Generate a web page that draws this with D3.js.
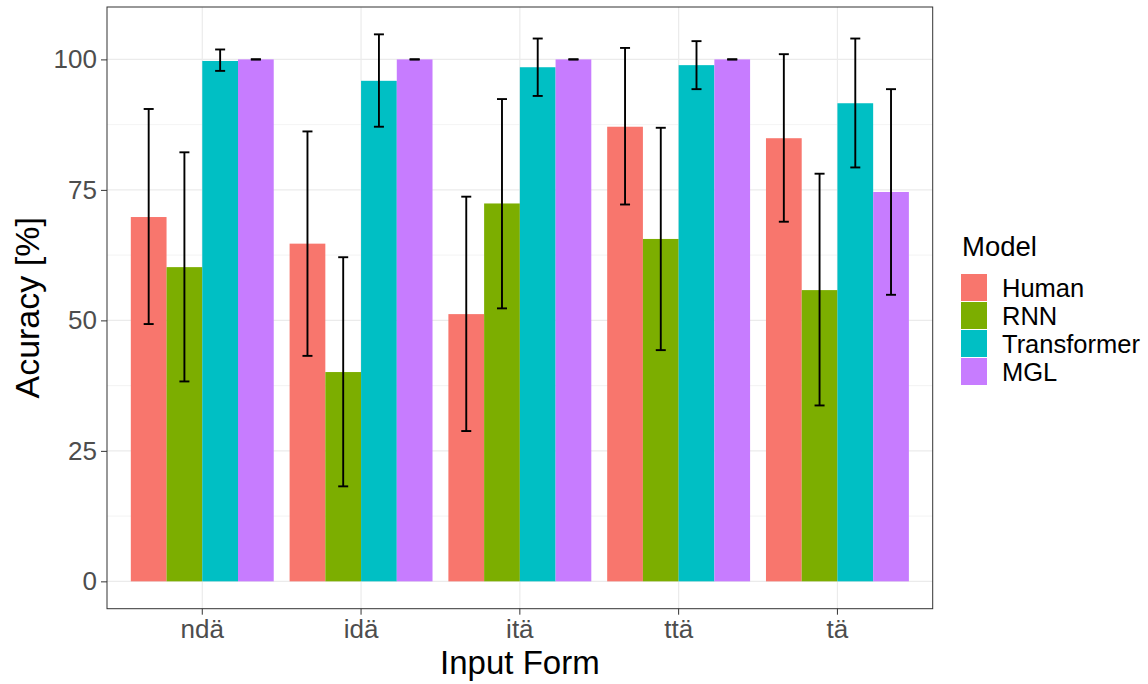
<!DOCTYPE html>
<html>
<head>
<meta charset="utf-8">
<script src="https://cdn.jsdelivr.net/npm/d3@7"></script>
<style>
  body { margin: 0; background: #ffffff; }
  svg { display: block; font-family: "Liberation Sans", Arial, sans-serif; }
</style>
</head>
<body>
<div id="chart"></div>
<script>
"use strict";

// data
const forms = ["ndä", "idä", "itä", "ttä", "tä"];
const models = ["Human", "RNN", "Transformer", "MGL"];
const model_colors = ["#F8766D", "#7CAE00", "#00BFC4", "#C77CFF"];
const y_ticks = [0, 25, 50, 75, 100];
const y_minor = [12.5, 37.5, 62.5, 87.5];

// one value per form, for each model
const acc_human       = [69.8, 64.7, 51.2, 87.1, 84.9];
const acc_rnn         = [60.2, 40.1, 72.4, 65.6, 55.8];
const acc_transformer = [99.7, 95.9, 98.5, 98.9, 91.6];
const acc_mgl         = [100, 100, 100, 100, 74.6];

const lo_human       = [49.3, 43.2, 28.8, 72.2, 68.9];
const hi_human       = [90.5, 86.2, 73.7, 102.2, 101.0];
const lo_rnn         = [38.3, 18.2, 52.3, 44.3, 33.7];
const hi_rnn         = [82.2, 62.1, 92.4, 86.9, 78.1];
const lo_transformer = [97.8, 87.1, 93.0, 94.3, 79.3];
const hi_transformer = [101.9, 104.8, 104.0, 103.5, 104.0];
const lo_mgl         = [100, 100, 100, 100, 54.9];
const hi_mgl         = [100, 100, 100, 100, 94.3];

const values = [acc_human, acc_rnn, acc_transformer, acc_mgl];
const lows = [lo_human, lo_rnn, lo_transformer, lo_mgl];
const highs = [hi_human, hi_rnn, hi_transformer, hi_mgl];

const rows = [];
forms.forEach(function(f, i) {
  models.forEach(function(m, j) {
    rows.push({form: f, model: m, value: values[j][i], lo: lows[j][i], hi: highs[j][i]});
  });
});

const width = 1148;
const height = 684;
const panel = {left: 107, right: 932.7, top: 7, bottom: 608.7};

const svg = d3.select("#chart")
    .append("svg")
    .attr("width", width)
    .attr("height", height);

svg.append("rect")
    .attr("width", width)
    .attr("height", height)
    .style("fill", "#ffffff");

// scales (ggplot style expansion)
const data_max = d3.max(rows, d => d.hi);
const pad = data_max * 0.05;
const y = d3.scaleLinear()
    .domain([-pad, data_max + pad])
    .range([panel.bottom, panel.top]);

const x0 = d3.scaleBand()
    .domain(forms)
    .range([panel.left, panel.right])
    .paddingInner(0.1)
    .paddingOuter(0.15);

const x1 = d3.scaleBand()
    .domain(models)
    .range([0, x0.bandwidth()]);

const color = d3.scaleOrdinal()
    .domain(models)
    .range(model_colors);

// grid
const grid = svg.append("g");
grid.selectAll(".minor")
    .data(y_minor)
    .enter().append("line")
    .attr("x1", panel.left).attr("x2", panel.right)
    .attr("y1", d => y(d)).attr("y2", d => y(d))
    .style("stroke", "#EBEBEB")
    .style("stroke-width", 0.6);

grid.selectAll(".major")
    .data(y_ticks)
    .enter().append("line")
    .attr("x1", panel.left).attr("x2", panel.right)
    .attr("y1", d => y(d)).attr("y2", d => y(d))
    .style("stroke", "#EBEBEB")
    .style("stroke-width", 1.2);

grid.selectAll(".vmajor")
    .data(forms)
    .enter().append("line")
    .attr("x1", d => x0(d) + x0.bandwidth() / 2)
    .attr("x2", d => x0(d) + x0.bandwidth() / 2)
    .attr("y1", panel.top).attr("y2", panel.bottom)
    .style("stroke", "#EBEBEB")
    .style("stroke-width", 1.2);

// bars
svg.append("g")
    .selectAll("rect")
    .data(rows)
    .enter().append("rect")
    .attr("x", d => x0(d.form) + x1(d.model))
    .attr("y", d => y(d.value))
    .attr("width", x1.bandwidth())
    .attr("height", d => y(0) - y(d.value))
    .style("fill", d => color(d.model));

// error bars
const cap = x1.bandwidth() * 0.28;
const err = svg.append("g")
    .style("stroke", "#000000")
    .style("stroke-width", 1.9);

rows.forEach(function(d) {
  const cx = x0(d.form) + x1(d.model) + x1.bandwidth() / 2;
  err.append("line")
      .attr("x1", cx).attr("x2", cx)
      .attr("y1", y(d.lo)).attr("y2", y(d.hi));
  err.append("line")
      .attr("x1", cx - cap / 2).attr("x2", cx + cap / 2)
      .attr("y1", y(d.lo)).attr("y2", y(d.lo));
  err.append("line")
      .attr("x1", cx - cap / 2).attr("x2", cx + cap / 2)
      .attr("y1", y(d.hi)).attr("y2", y(d.hi));
});

// panel border
svg.append("rect")
    .attr("x", panel.left)
    .attr("y", panel.top)
    .attr("width", panel.right - panel.left)
    .attr("height", panel.bottom - panel.top)
    .style("fill", "none")
    .style("stroke", "#333333")
    .style("stroke-width", 1);

// axes
const y_axis = svg.append("g")
    .attr("transform", `translate(${panel.left},0)`)
    .call(d3.axisLeft(y).tickValues(y_ticks).tickSize(6).tickPadding(4));

const x_axis = svg.append("g")
    .attr("transform", `translate(0,${panel.bottom})`)
    .call(d3.axisBottom(x0).tickSize(6).tickPadding(2));

[y_axis, x_axis].forEach(function(a) {
  a.select(".domain").remove();
  a.selectAll(".tick line").style("stroke", "#333333").style("stroke-width", 1);
  a.selectAll(".tick text")
      .style("fill", "#4D4D4D")
      .style("font-size", "26px")
      .style("font-family", "Liberation Sans, Arial, sans-serif");
});
x_axis.selectAll(".tick text").attr("dy", "0.82em");

// axis titles
svg.append("text")
    .attr("x", (panel.left + panel.right) / 2)
    .attr("y", 674)
    .attr("text-anchor", "middle")
    .style("font-size", "33px")
    .style("fill", "#000000")
    .text("Input Form");

svg.append("text")
    .attr("transform", `translate(39,${(panel.top + panel.bottom) / 2}) rotate(-90)`)
    .attr("text-anchor", "middle")
    .style("font-size", "34px")
    .style("fill", "#000000")
    .text("Acuracy [%]");

// legend
const legend = svg.append("g").attr("transform", "translate(961,0)");
legend.append("text")
    .attr("x", 1)
    .attr("y", 256)
    .style("font-size", "27.5px")
    .style("fill", "#000000")
    .text("Model");

const key_h = 28;
const item = legend.selectAll(".key")
    .data(models)
    .enter().append("g")
    .attr("transform", (d, i) => `translate(0,${274 + i * key_h})`);

item.append("rect")
    .attr("width", 26)
    .attr("height", key_h - 1)
    .style("fill", d => color(d));

item.append("text")
    .attr("x", 41)
    .attr("y", key_h / 2)
    .attr("dy", "0.35em")
    .style("font-size", "25.5px")
    .style("fill", "#000000")
    .text(d => d);
</script>
</body>
</html>
